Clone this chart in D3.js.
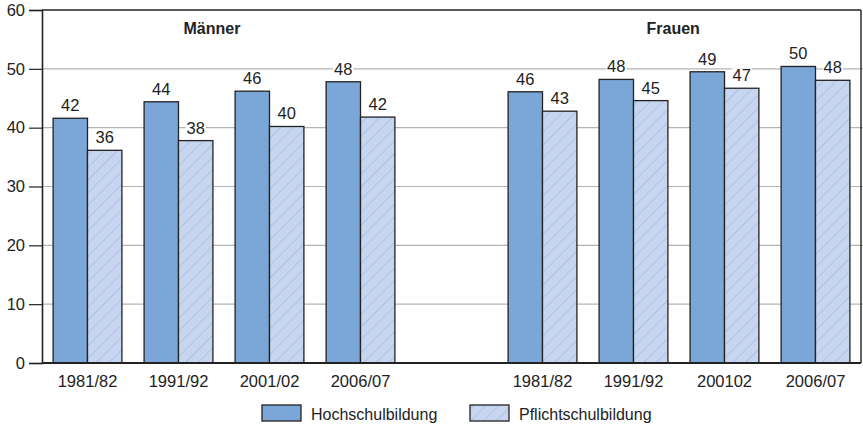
<!DOCTYPE html>
<html><head><meta charset="utf-8">
<script src="https://cdn.jsdelivr.net/npm/d3@7"></script>
<style>body{margin:0;background:#fff;} svg{display:block;font-family:"Liberation Sans",Arial,sans-serif;}</style>
</head><body>
<svg id="c" width="863" height="424"></svg>
<script>
const slots = ["M1981/82","M1991/92","M2001/02","M2006/07","gap","F1981/82","F1991/92","F200102","F2006/07"];
const periods = ["1981/82","1991/92","2001/02","2006/07","","1981/82","1991/92","200102","2006/07"];
const hochValues = [41.6,44.4,46.2,47.8,null,46.1,48.2,49.5,50.4];
const pflichtValues = [36.15,37.8,40.2,41.8,null,42.8,44.6,46.7,48.05];
const hochLabels = ["42","44","46","48","","46","48","49","50"];
const pflichtLabels = ["36","38","40","42","","43","45","47","48"];
const groupTitles = ["Männer","Frauen"];
const seriesNames = ["Hochschulbildung","Pflichtschulbildung"];
const yTicks = [0,10,20,30,40,50,60];

const svg = d3.select("#c");
const L=42, R=861, T=10, B=363;
const FS = 16.5;
const x = d3.scaleBand().domain(slots).range([L,R]).paddingInner(0).paddingOuter(0);
const y = d3.scaleLinear().domain([0,60]).range([B,T]);
const bw = x.bandwidth()*0.378;

const defs = svg.append("defs");
const pat = defs.append("pattern").attr("id","hatch").attr("patternUnits","userSpaceOnUse")
  .attr("width",9).attr("height",9).attr("patternTransform","rotate(45)");
pat.append("rect").attr("width",9).attr("height",9).attr("fill","#c8d5ee");
pat.append("line").attr("x1",0).attr("y1",0).attr("x2",0).attr("y2",9).attr("stroke","#8fb2e2").attr("stroke-width",1);

// gridlines
svg.append("g").selectAll("line").data(yTicks.filter(d=>d>0&&d<60)).join("line")
  .attr("x1",L).attr("x2",R+2).attr("y1",d=>y(d)).attr("y2",d=>y(d))
  .attr("stroke","#b4b4b4").attr("stroke-width",1.2);

// y axis
const ya = svg.append("g").attr("transform",`translate(${L},0)`)
  .call(d3.axisLeft(y).tickValues(yTicks).tickSize(13).tickPadding(4));
ya.select(".domain").attr("stroke","#222").attr("stroke-width",1.6);
ya.selectAll(".tick line").attr("stroke","#222").attr("stroke-width",1.2);
ya.selectAll("text").attr("font-size",FS).attr("fill","#222").attr("font-family","Liberation Sans, Arial, sans-serif");

// frame top/right
svg.append("line").attr("x1",L).attr("x2",R).attr("y1",T).attr("y2",T).attr("stroke","#222").attr("stroke-width",1.4);
svg.append("line").attr("x1",R).attr("x2",R).attr("y1",T).attr("y2",B).attr("stroke","#222").attr("stroke-width",1.4);

const idx = d3.range(slots.length).filter(i=>hochValues[i]!=null);
const g = svg.append("g");
g.selectAll("rect.h").data(idx).join("rect").attr("class","h")
  .attr("x",i=>x(slots[i])+x.bandwidth()/2-bw).attr("width",bw)
  .attr("y",i=>y(hochValues[i])).attr("height",i=>y(0)-y(hochValues[i]))
  .attr("fill","#7ba6d8").attr("stroke","#222").attr("stroke-width",1.3);
g.selectAll("rect.p").data(idx).join("rect").attr("class","p")
  .attr("x",i=>x(slots[i])+x.bandwidth()/2).attr("width",bw)
  .attr("y",i=>y(pflichtValues[i])).attr("height",i=>y(0)-y(pflichtValues[i]))
  .attr("fill","url(#hatch)").attr("stroke","#222").attr("stroke-width",1.3);

// bottom axis line
svg.append("line").attr("x1",L).attr("x2",R).attr("y1",B).attr("y2",B).attr("stroke","#222").attr("stroke-width",2);

// value labels
function addLabel(cx, yy, txt){
  const gg = svg.append("g");
  const t = gg.append("text").attr("x",cx).attr("y",yy).attr("text-anchor","middle")
    .attr("font-size",FS).attr("fill","#222").text(txt);
  const bb = t.node().getBBox();
  gg.insert("rect","text").attr("x",bb.x-1).attr("y",bb.y+2).attr("width",bb.width+2).attr("height",bb.height-3).attr("fill","#fff");
}
idx.forEach(i=>{
  addLabel(x(slots[i])+x.bandwidth()/2-bw/2, y(hochValues[i])-7, hochLabels[i]);
  addLabel(x(slots[i])+x.bandwidth()/2+bw/2, y(pflichtValues[i])-7, pflichtLabels[i]);
});

// x labels
svg.append("g").selectAll("text").data(idx).join("text")
  .attr("x",i=>x(slots[i])+x.bandwidth()/2).attr("y",387).attr("text-anchor","middle")
  .attr("font-size",FS).attr("fill","#222").text(i=>periods[i]);

// group titles
svg.append("text").attr("x",x(slots[1])+x.bandwidth()/2+5).attr("y",34).attr("font-size",16).attr("font-weight","bold").attr("fill","#222").text(groupTitles[0]);
svg.append("text").attr("x",x(slots[6])+x.bandwidth()/2+13).attr("y",34).attr("font-size",16).attr("font-weight","bold").attr("fill","#222").text(groupTitles[1]);

// legend
const leg = [{x:262,fill:"#7ba6d8"},{x:470,fill:"url(#hatch)"}];
leg.forEach((d,i)=>{
  svg.append("rect").attr("x",d.x).attr("y",405).attr("width",39).attr("height",16).attr("fill",d.fill).attr("stroke","#222").attr("stroke-width",1.3);
  svg.append("text").attr("x",d.x+49).attr("y",419.5).attr("font-size",16).attr("fill","#222").text(seriesNames[i]);
});
</script>
</body></html>
